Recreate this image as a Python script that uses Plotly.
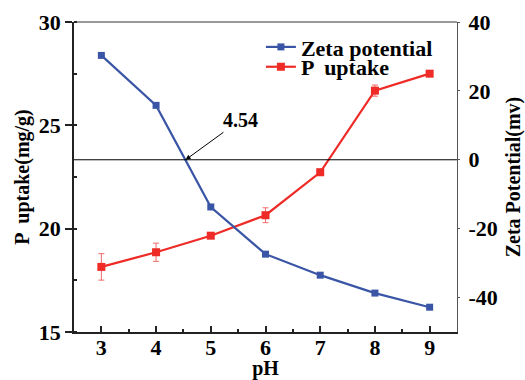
import plotly.graph_objects as go

ph = [3, 4, 5, 6, 7, 8, 9]
zeta = [30.3, 15.8, -13.7, -27.4, -33.5, -38.7, -42.8]
p_uptake = [18.15, 18.86, 19.66, 20.65, 22.73, 26.68, 27.5]
p_err = [0.64, 0.44, 0.1, 0.36, 0.15, 0.27, 0.1]
zeta_ticks = [-40, -20, 0, 20, 40]
zeta_ticktext = ["-40", "-20", "0", "20", "40"]
iep_ph = 4.54
iep_label = "4.54"

FONT = "Liberation Serif"
BLUE = "#3a55a6"
RED = "#ee2b26"

fig = go.Figure()
fig.add_trace(go.Scatter(
    x=ph, y=zeta, name="Zeta potential", yaxis="y2", mode="lines+markers",
    line=dict(color=BLUE, width=2.2),
    marker=dict(symbol="square", size=7, color=BLUE),
    legend="legend",
))
fig.add_trace(go.Scatter(
    x=ph, y=p_uptake, name="P  uptake", yaxis="y", mode="lines+markers",
    line=dict(color=RED, width=2.2),
    marker=dict(symbol="square", size=8, color=RED),
    error_y=dict(type="data", array=p_err, color="#f26a6a", thickness=1, width=3),
    legend="legend2",
))

fig.add_shape(type="line", xref="paper", yref="y2", x0=0, x1=1, y0=0, y1=0,
              line=dict(color="black", width=1))
fig.add_shape(type="line", xref="paper", yref="paper", x0=0, x1=1, y0=1, y1=1,
              line=dict(color="#333", width=1))

fig.add_annotation(x=iep_ph, y=0, xref="x", yref="y2", text="<b>%s</b>" % iep_label,
                   showarrow=True, arrowhead=2, arrowsize=1, arrowwidth=1,
                   arrowcolor="black", ax=55, ay=-40,
                   font=dict(family=FONT, size=20, color="black"))

legend_style = dict(xanchor="left", yanchor="middle", bgcolor="rgba(0,0,0,0)",
                    borderwidth=0,
                    font=dict(family=FONT, size=22, color="black", weight="bold"))

fig.update_layout(
    width=525, height=380,
    margin=dict(l=74, r=68, t=22, b=48),
    paper_bgcolor="white", plot_bgcolor="white",
    font=dict(family=FONT, size=20, color="black"),
    showlegend=True,
    legend=dict(x=0.488, y=0.919, **legend_style),
    legend2=dict(x=0.488, y=0.855, **legend_style),
    xaxis=dict(range=[2.5, 9.5], dtick=1, tick0=3, showgrid=False, zeroline=False,
               automargin=False,
               showline=True, linecolor="#222", linewidth=2,
               ticks="inside", ticklen=6, tickcolor="#222", tickwidth=1.5,
               minor=dict(ticks="inside", ticklen=3, dtick=0.5, tickcolor="#222", tickwidth=1.5),
               tickfont=dict(family=FONT, size=22, weight="bold"),
               ticklabelstandoff=-5,
               title=dict(text="<b>pH</b>", font=dict(family=FONT, size=20), standoff=0)),
    yaxis=dict(range=[15, 30], dtick=5, showgrid=False, zeroline=False,
               automargin=False,
               showline=True, linecolor="#222", linewidth=1.5,
               ticks="outside", ticklen=7, tickcolor="#222", tickwidth=1.5,
               minor=dict(ticks="inside", ticklen=3, dtick=2.5, tickcolor="#222"),
               tickfont=dict(family=FONT, size=22, weight="bold"),
               title=dict(text="<b>P  uptake(mg/g)</b>", font=dict(family=FONT, size=20), standoff=4)),
    yaxis2=dict(range=[-50, 40], tickvals=zeta_ticks, ticktext=zeta_ticktext,
                overlaying="y", side="right", automargin=False,
                showgrid=False, zeroline=False, showline=True, linecolor="#555", linewidth=1.2,
                ticks="outside", ticklen=2, tickcolor="#555",
                tickfont=dict(family=FONT, size=22, weight="bold"),
                ticklabelstandoff=4,
                title=dict(text="<b>Zeta Potential(mv)</b>", font=dict(family=FONT, size=20), standoff=10)),
)

fig.write_html("out.html", config={"displayModeBar": False},
               post_script="document.body.style.margin='0px';")
